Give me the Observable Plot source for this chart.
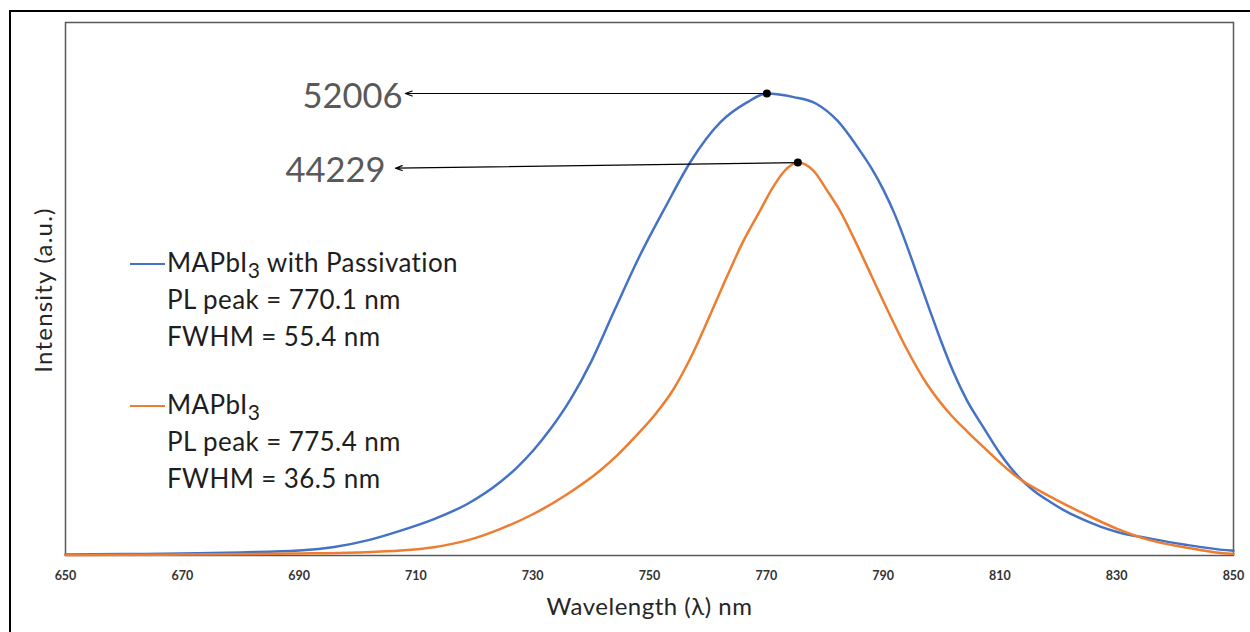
<!DOCTYPE html>
<html><head><meta charset="utf-8">
<script src="https://cdn.jsdelivr.net/npm/d3@7"></script>
<script src="https://cdn.jsdelivr.net/npm/@observablehq/plot@0.6"></script>
<style>
body{margin:0;background:#fff;font-family:Lato,"Open Sans",sans-serif;}
#wrap{position:relative;width:1250px;height:632px;overflow:hidden;background:#fff;}
#outer{position:absolute;left:9px;top:10px;width:1400px;height:800px;border-left:2px solid #000;border-top:2px solid #000;pointer-events:none;}
#chart{position:absolute;left:0;top:0;}
.leg{position:absolute;font-size:26px;letter-spacing:0.4px;color:#1e1e1e;line-height:37px;white-space:nowrap;}
.leg .row{position:relative;padding-left:37px;height:37px;}
.leg .sw{position:absolute;left:0;top:19px;width:35px;height:0;border-top:2.5px solid;}
.leg sub{font-size:21px;line-height:0;vertical-align:-6px;}
</style>
</head><body>
<div id="wrap">
  <div id="chart"></div>
  <div id="outer"></div>
</div>
<script>
// Wavelength (nm) and intensity (a.u.)
const wlPass = [650,660,670,680,690,696,701.7,707.4,713.1,718.8,724.5,727.3,730.2,733,736.5,740,744,748,752.7,757,762.2,766.7,770.1,774.7,778.7,782.1,786,788,790.1,792,794,796,798,800,802,804.4,807.2,810.1,813,815.8,818.7,821.5,824.4,827.2,830.1,835.8,841.5,849.5,850];
const intPass = [120,160,220,350,560,950,1700,2800,4100,5800,8300,9900,11900,14200,17600,21800,27600,33300,39200,44300,48800,51000,52006,51600,50800,49000,45600,43600,41100,38400,35000,31300,27600,24000,20700,17400,14400,11400,9000,7300,6000,4900,4000,3250,2650,1900,1240,560,540];

const wlBare = [650,670,690,700,707.4,713.1,718.8,724.5,730.2,735.9,741.6,744.5,747.3,751,754,757,760,763,766,769,771,773,775.4,778.1,780.4,782.7,785,788,791,794,797.5,801.5,804.5,807.2,813,818.7,824.4,830.1,835.8,841.5,849.5,850];
const intBare = [50,100,220,350,560,940,1700,3000,4700,6900,9600,11300,13200,15900,18600,22200,26500,31000,35300,38900,41300,43200,44229,43300,41100,38700,35700,31500,27300,23300,19300,15900,13900,12200,8800,6600,4700,3000,1700,940,190,180];

const xTicks = [650,670,690,710,730,750,770,790,810,830,850];

const peakLabels = ["52006","44229"];
const peakWl = [770.1,775.4];
const peakInt = [52006,44229];
const arrowEndWl = [708.2,706.5];
const arrowEndInt = [52006,43600];
const labelEndWl = [707.7,704.8];

const seriesColors = ["#4472C4","#ED7D31"];

const pass = wlPass.map((w,i)=>({wl:w, v:intPass[i]}));
const bare = wlBare.map((w,i)=>({wl:w, v:intBare[i]}));
const peaks = peakLabels.map((l,i)=>({label:l, wl:peakWl[i], v:peakInt[i], ex:arrowEndWl[i], ey:arrowEndInt[i], lx:labelEndWl[i]}));

const chart = Plot.plot({
  width:1250, height:632,
  marginLeft:65, marginRight:17, marginTop:22, marginBottom:77,
  x:{domain:[650,850]},
  y:{domain:[0,60000]},
  style:{fontFamily:"Lato, 'Open Sans', sans-serif", background:"transparent", color:"#333"},
  marks:[
    Plot.frame({stroke:"#595959", strokeWidth:1.5}),
    Plot.axisX({ticks:xTicks, tickSize:0, tickPadding:16, fontSize:12.5, fontWeight:"bold", label:null, tickFormat:d=>String(d)}),
    Plot.axisY({ticks:[], label:null}),
    Plot.text(["Wavelength (λ) nm"], {frameAnchor:"bottom", dy:59, fontSize:24, fill:"#262626"}),
    Plot.text(["Intensity (a.u.)"], {frameAnchor:"left", dx:-21, dy:1, rotate:-90, textAnchor:"middle", fontSize:24, fill:"#262626"}),
    Plot.line(pass, {x:"wl", y:"v", stroke:seriesColors[0], strokeWidth:2.5, curve:"monotone-x"}),
    Plot.line(bare, {x:"wl", y:"v", stroke:seriesColors[1], strokeWidth:2.5, curve:"monotone-x"}),
    Plot.arrow(peaks, {x1:"wl", y1:"v", x2:"ex", y2:"ey", stroke:"#000", strokeWidth:1.2, headLength:9, headAngle:40}),
    Plot.dot(peaks, {x:"wl", y:"v", r:4, fill:"#000"}),
    Plot.text(peaks, {x:"lx", y:"ey", text:"label", textAnchor:"end", fontSize:34.5, fill:"#595959", dy:3})
  ]
});
// letter-spacing for axis titles
d3.select(chart).selectAll("text").filter(function(){return /Wavelength|Intensity/.test(this.textContent);}).style("letter-spacing", function(){return /Intensity/.test(this.textContent)?"1.2px":"0.5px";});
document.getElementById("chart").appendChild(chart);

// Legend
const legendRows = [
  {color:seriesColors[0], lines:['MAPbI<sub>3</sub> with Passivation','PL peak = 770.1 nm','FWHM = 55.4 nm'], top:244},
  {color:seriesColors[1], lines:['MAPbI<sub>3</sub>','PL peak = 775.4 nm','FWHM = 36.5 nm'], top:386}
];
const wrap = document.getElementById("wrap");
legendRows.forEach(r=>{
  const d = document.createElement("div");
  d.className="leg";
  d.style.left="130px"; d.style.top=r.top+"px";
  d.innerHTML = r.lines.map((t,i)=>`<div class="row">${i===0?`<span class="sw" style="border-color:${r.color}"></span>`:''}${t}</div>`).join("");
  wrap.appendChild(d);
});
</script>
</body></html>
